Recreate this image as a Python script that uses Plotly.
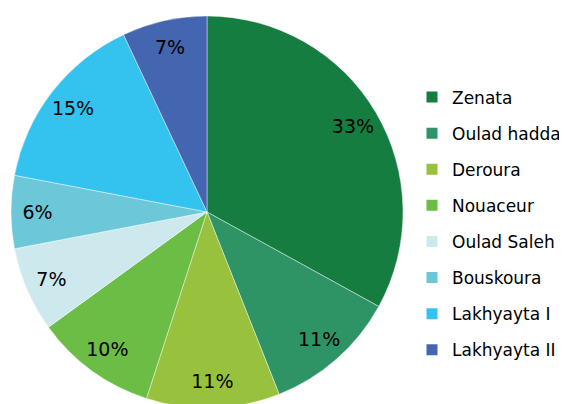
import plotly.graph_objects as go

labels = ["Zenata", "Oulad hadda", "Deroura", "Nouaceur", "Oulad Saleh",
          "Bouskoura", "Lakhyayta I", "Lakhyayta II"]
values = [33, 11, 11, 10, 7, 6, 15, 7]
colors = ["#147D3F", "#2E9466", "#98C23D", "#6BBD45", "#CDE9EE",
          "#6CC8D8", "#34C3EE", "#4466B0"]

FONT = "'DejaVu Sans', sans-serif"
W, H = 567, 404
# the page body has an 8px margin; coordinates below are in figure pixels
dom = dict(x=[3 / W, 395 / W], y=[4 / H, 396 / H])

fig = go.Figure()
# coloured pie
fig.add_trace(go.Pie(
    labels=labels, values=values, sort=False, direction="clockwise",
    rotation=0, textinfo="none",
    marker=dict(colors=colors, line=dict(color="rgba(255,255,255,0.6)", width=0.7)),
    showlegend=False, hoverinfo="label+percent", domain=dom,
))
# transparent ring carrying the percentage labels near the rim
fig.add_trace(go.Pie(
    labels=labels, values=values, sort=False, direction="clockwise",
    rotation=0, hole=0.73, textinfo="percent", textposition="inside",
    insidetextorientation="horizontal", texttemplate="%{percent:.0%}",
    marker=dict(colors=["rgba(0,0,0,0)"] * len(values), line=dict(width=0)),
    textfont=dict(family=FONT, size=19, color="black"),
    showlegend=False, hoverinfo="skip", domain=dom,
))

for i, (lab, col) in enumerate(zip(labels, colors)):
    fig.add_trace(go.Scatter(
        x=[None], y=[None], mode="markers", name=lab,
        marker=dict(symbol="square", size=11, color=col),
        legendgroup=f"g{i}", showlegend=True,
    ))

fig.update_layout(
    width=W, height=H,
    margin=dict(l=0, r=0, t=0, b=0),
    paper_bgcolor="white", plot_bgcolor="white",
    xaxis=dict(visible=False), yaxis=dict(visible=False),
    legend=dict(x=404 / W, y=0.4666, xanchor="left", yanchor="middle",
                font=dict(family=FONT, size=17, color="black"),
                tracegroupgap=11, itemwidth=30, bgcolor="rgba(0,0,0,0)"),
)

fig.write_html("out.html")
